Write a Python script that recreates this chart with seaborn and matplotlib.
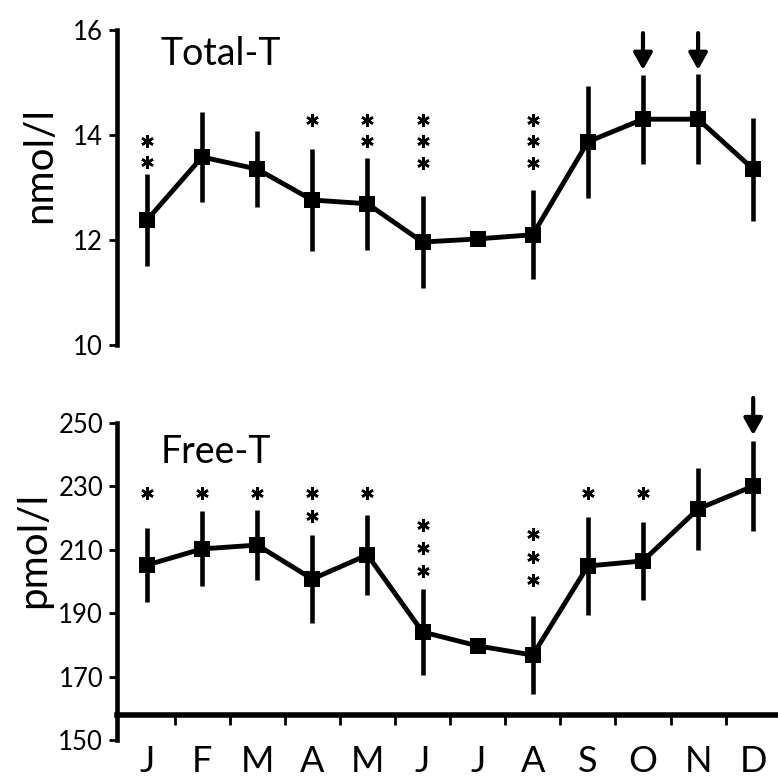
import matplotlib
matplotlib.use("Agg")
import matplotlib.pyplot as plt
import numpy as np
import pandas as pd
import seaborn as sns

# ---------------- data ----------------
months = ["J", "F", "M", "A", "M", "J", "J", "A", "S", "O", "N", "D"]
total_t = [12.38, 13.58, 13.35, 12.76, 12.69, 11.96, 12.02, 12.10, 13.87, 14.30, 14.30, 13.35]
total_t_err = [0.88, 0.86, 0.72, 0.97, 0.88, 0.87, 0.0, 0.85, 1.07, 0.85, 0.86, 0.98]
free_t = [205.2, 210.3, 211.5, 200.8, 208.4, 184.1, 179.7, 176.8, 204.9, 206.5, 222.9, 230.1]
free_t_err = [11.8, 11.8, 11.0, 14.0, 12.6, 13.5, 0.0, 12.3, 15.6, 12.2, 12.8, 14.2]
total_stars = [2, 0, 0, 1, 2, 3, 0, 3, 0, 0, 0, 0]
free_stars = [1, 1, 1, 2, 1, 3, 0, 3, 1, 1, 0, 0]
total_arrow_months = [9, 10]
free_arrow_months = [11]
total_ticks = [10, 12, 14, 16]
free_ticks = [150, 170, 190, 210, 230, 250]

# ---------------- annotation layout ----------------
total_star_top = [13.89, None, None, 14.29, 14.29, 14.29, None, 14.29, None, None, None, None]
total_star_step = 0.41
free_star_top = [227.9, 227.9, 227.9, 227.9, 227.9, 217.8, None, 215.0, 227.9, 227.9, None, None]
free_star_step = 7.2

sns.set_theme(style="white")
plt.rcParams["font.family"] = ["Lato", "DejaVu Sans"]

TICK_FS = 18.5
LABEL_FS = 29
MONTH_FS = 26
TITLE_FS = 27

fig = plt.figure(figsize=(7.78, 7.78), dpi=100)
ax1 = fig.add_axes([0.1504, 0.5566, 0.8496, 0.4049])
ax2 = fig.add_axes([0.1504, 0.0488, 0.8496, 0.4482])

x = np.arange(len(months))
df_total = pd.DataFrame({"month": x, "value": total_t})
df_free = pd.DataFrame({"month": x, "value": free_t})

LW = 3.5
for ax, df, err in [(ax1, df_total, total_t_err), (ax2, df_free, free_t_err)]:
    ax.errorbar(x, df["value"], yerr=err, fmt="none", ecolor="black",
                elinewidth=3.3, capsize=0, zorder=2)
    sns.lineplot(data=df, x="month", y="value", ax=ax, color="black",
                 linewidth=LW, marker="s", markersize=11, markeredgewidth=0,
                 zorder=3)
    ax.set_xlim(-0.544, 11.45)
    ax.set_xlabel("")
    ax.set_facecolor("white")
    for s in ["top", "right"]:
        ax.spines[s].set_visible(False)
    ax.spines["left"].set_linewidth(3.3)
    ax.spines["left"].set_color("black")

# ---- top panel ----
ax1.set_ylim(10, 16)
ax1.set_yticks(total_ticks)
ax1.set_yticklabels([str(t) for t in total_ticks], fontsize=TICK_FS, color="black")
ax1.spines["bottom"].set_visible(False)
ax1.set_xticks([])
ax1.set_ylabel("nmol/l", fontsize=LABEL_FS, color="black")
ax1.yaxis.set_label_coords(-0.089, 0.571)
ax1.text(0.24, 15.33, "Total-T", fontsize=TITLE_FS, ha="left", va="baseline", color="black")

# ---- bottom panel ----
ax2.set_ylim(150, 260)
ax2.set_yticks(free_ticks)
ax2.set_yticklabels([str(t) for t in free_ticks], fontsize=TICK_FS, color="black")
ax2.spines["left"].set_bounds(150, 250)
ax2.spines["bottom"].set_position(("data", 158))
ax2.spines["bottom"].set_linewidth(4)
ax2.spines["bottom"].set_color("black")
ax2.set_xticks(x)
ax2.set_xticklabels(months, fontsize=MONTH_FS, color="black")
ax2.set_xticks(x[:-1] + 0.5, minor=True)
ax2.tick_params(axis="x", which="major", length=0, pad=22)
ax2.tick_params(axis="x", which="minor", direction="out", length=7, width=2,
                color="black", bottom=True)
ax2.set_ylabel("pmol/l", fontsize=LABEL_FS, color="black")
ax2.yaxis.set_label_coords(-0.098, 0.545)
ax2.text(0.24, 237.4, "Free-T", fontsize=TITLE_FS, ha="left", va="baseline", color="black")

for ax in (ax1, ax2):
    ax.tick_params(axis="y", direction="out", length=6, width=2, color="black",
                   left=True, pad=4)

# ---- significance asterisks ----
def draw_stars(ax, counts, tops, step):
    for i, (n, top) in enumerate(zip(counts, tops)):
        for k in range(n):
            ax.plot([i], [top - k * step], marker=(6, 2, 0), markersize=9,
                    markeredgewidth=1.8, color="black", linestyle="none",
                    zorder=4, clip_on=False)

draw_stars(ax1, total_stars, total_star_top, total_star_step)
draw_stars(ax2, free_stars, free_star_top, free_star_step)

# ---- arrows ----
def draw_arrow(ax, i, tail, tip):
    ax.annotate("", xy=(i, tip), xytext=(i, tail),
                arrowprops=dict(arrowstyle="-|>,head_length=0.5,head_width=0.28",
                                lw=3, color="black", mutation_scale=20,
                                shrinkA=0, shrinkB=0),
                annotation_clip=False)

for i in total_arrow_months:
    draw_arrow(ax1, i, 15.94, 15.24)
for i in free_arrow_months:
    draw_arrow(ax2, i, 257.9, 246.2)

fig.savefig("out.png", dpi=100, facecolor="white")
